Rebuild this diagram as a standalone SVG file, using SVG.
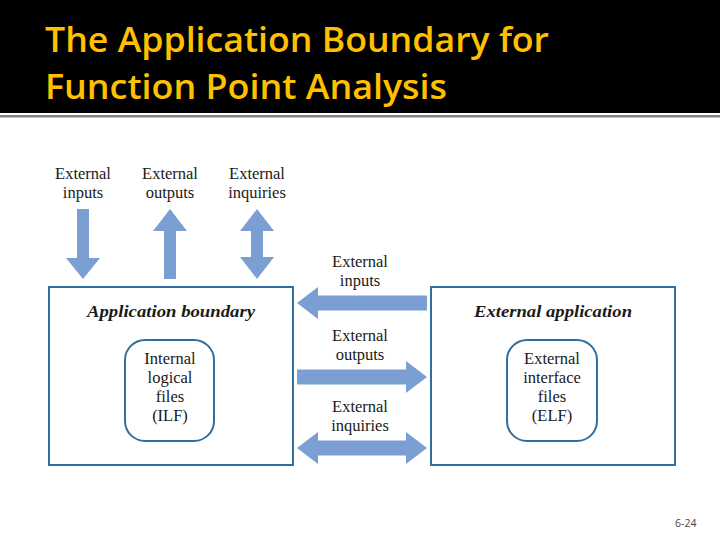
<svg xmlns="http://www.w3.org/2000/svg" width="720" height="540" viewBox="0 0 720 540">
<style>
.title{font-family:"Open Sans","Liberation Sans",sans-serif;font-weight:600;font-size:35px;fill:#FFC000}
.lbl{font-family:"Liberation Serif","Times New Roman",serif;font-size:16.5px;fill:#1a1a1a;text-anchor:middle}
.hdr{font-family:"Liberation Serif","Times New Roman",serif;font-size:17px;font-weight:bold;font-style:italic;fill:#1a1a1a}
.box{fill:#fff;stroke:#2E6FA0;stroke-width:2}
.arrow{fill:#7B9FD3}
.foot{font-family:"Open Sans","Liberation Sans",sans-serif;font-size:10.5px;fill:#444}
</style>
<rect x="0" y="0" width="720" height="540" fill="#fff"/>
<rect x="0" y="0" width="720" height="113" fill="#000"/>
<rect x="0" y="115" width="720" height="2.5" fill="#808080"/>
<text class="title" x="45" y="52" textLength="504" lengthAdjust="spacingAndGlyphs">The Application Boundary for</text>
<text class="title" x="45" y="99" textLength="402" lengthAdjust="spacingAndGlyphs">Function Point Analysis</text>

<g id="app-boundary">
<rect class="box" x="49" y="287" width="244" height="178"/>
<text class="hdr" x="87" y="317" textLength="168" lengthAdjust="spacingAndGlyphs">Application boundary</text>
</g>
<g id="ilf">
<rect class="box" x="125" y="340" width="89" height="101" rx="20" ry="20"/>
<text class="lbl" x="170" y="364">Internal</text>
<text class="lbl" x="170" y="383">logical</text>
<text class="lbl" x="170" y="402">files</text>
<text class="lbl" x="170" y="421">(ILF)</text>
</g>
<g id="ext-app">
<rect class="box" x="431" y="287" width="244" height="178"/>
<text class="hdr" x="474" y="317" textLength="158" lengthAdjust="spacingAndGlyphs">External application</text>
</g>
<g id="elf">
<rect class="box" x="507" y="340" width="90" height="101" rx="20" ry="20"/>
<text class="lbl" x="552" y="364">External</text>
<text class="lbl" x="552" y="383">interface</text>
<text class="lbl" x="552" y="402">files</text>
<text class="lbl" x="552" y="421">(ELF)</text>
</g>

<g id="connectors">
<polygon class="arrow" points="77,209 89,209 89,258 100,258 83,279 66,258 77,258"/>
<polygon class="arrow" points="170,209 187,231 176,231 176,279 164,279 164,231 153,231"/>
<polygon class="arrow" points="257,209 274,231 263,231 263,257 274,257 257,279 240,257 251,257 251,231 240,231"/>
<polygon class="arrow" points="297,303 318,287 318,295.5 427,295.5 427,310.5 318,310.5 318,319"/>
<polygon class="arrow" points="427,377 406,361 406,369.5 297,369.5 297,384.5 406,384.5 406,393"/>
<polygon class="arrow" points="297,448 318,432 318,440.5 406,440.5 406,432 427,448 406,464 406,455.5 318,455.5 318,464"/>
</g>

<g id="labels">
<text class="lbl" x="83" y="179">External</text>
<text class="lbl" x="83" y="198">inputs</text>
<text class="lbl" x="170" y="179">External</text>
<text class="lbl" x="170" y="198">outputs</text>
<text class="lbl" x="257" y="179">External</text>
<text class="lbl" x="257" y="198">inquiries</text>
<text class="lbl" x="360" y="267">External</text>
<text class="lbl" x="360" y="286">inputs</text>
<text class="lbl" x="360" y="341">External</text>
<text class="lbl" x="360" y="360">outputs</text>
<text class="lbl" x="360" y="412">External</text>
<text class="lbl" x="360" y="431">inquiries</text>
</g>
<text class="foot" x="675" y="527">6-24</text>
</svg>
